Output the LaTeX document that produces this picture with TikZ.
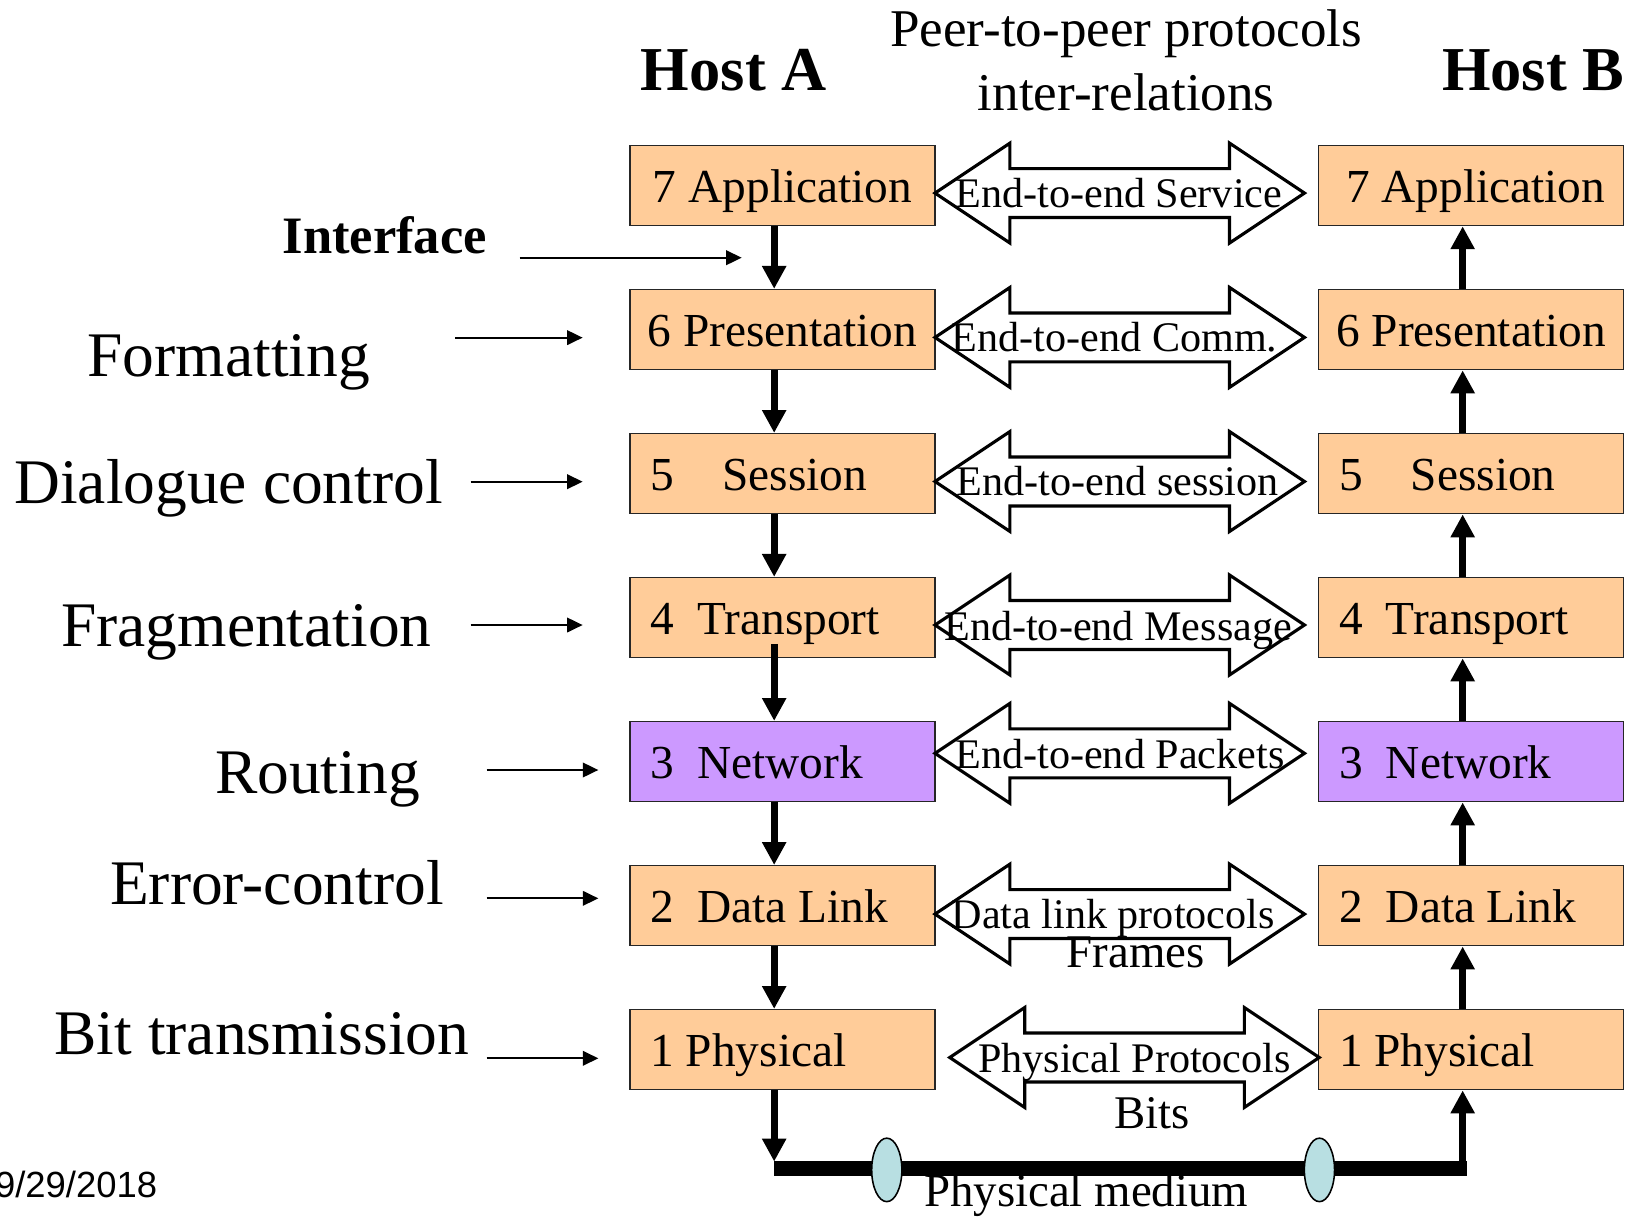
\documentclass[tikz,border=0pt]{standalone}
\usepackage{fontspec}
\setmainfont{Liberation Serif}
\newfontfamily\datefont{Liberation Sans}
\usetikzlibrary{arrows.meta,shapes.geometric}
\definecolor{peach}{HTML}{FFCC99}
\definecolor{lilac}{HTML}{CC99FF}
\definecolor{tapcyan}{HTML}{B8DFE2}

\tikzset{
  peerarrow/.pic={
    \draw[line width=3pt, fill=white, line join=miter]
      (-177.5,0) -- (-105.5,-48) -- (-105.5,-23.5) -- (105.5,-23.5) -- (105.5,-48)
      -- (177.5,0) -- (105.5,48) -- (105.5,23.5) -- (-105.5,23.5) -- (-105.5,48) -- cycle;
  }
}
% gap between a layer number and its name
\newcommand{\numgap}[1]{\hspace*{#1pt}}

\begin{document}
\begin{tikzpicture}[x=1pt,y=-1pt,
  layer/.style={draw=black!85, line width=1.3pt, fill=peach,
    minimum width=293pt, minimum height=77pt, inner sep=0pt,
    text height=32pt, text depth=0pt, font=\fontsize{45.5}{50}\selectfont},
  layerleft/.style={layer, text width=253pt, align=left},
  netlayer/.style={fill=lilac},
  flow/.style={line width=7pt, -{Triangle[width=22pt,length=22pt]}},
  hint/.style={line width=2pt, -{Triangle[width=14pt,length=15pt]}},
  peerlabel/.style={anchor=base, inner sep=0pt, font=\fontsize{40.5}{46}\selectfont},
  sidelabel/.style={anchor=base east, inner sep=0pt, font=\fontsize{61}{70}\selectfont},
  hostlabel/.style={anchor=base, inner sep=0pt, font=\bfseries\fontsize{60}{70}\selectfont},
  toplabel/.style={anchor=base, inner sep=0pt, font=\fontsize{51}{60}\selectfont},
  tap/.style={ellipse, draw=black, line width=1.5pt, fill=tapcyan,
    minimum width=29pt, minimum height=61pt, inner sep=0pt}
]
\fill[white] (0,0) rectangle (1568,1170);
\useasboundingbox (0,0) rectangle (1568,1170);

% headings
\node[hostlabel] (hostA) at (705,87) {Host A};
\node[hostlabel] (hostB) at (1473,87) {Host B};
\node[toplabel] (peer1) at (1082,45) {Peer-to-peer protocols};
\node[toplabel] (peer2) at (1082,106) {inter-relations};

% protocol stack of host A
\node[layer]              (a7) at (751.8,178.3)  {7 Application};
\node[layer]              (a6) at (751.8,316.7)  {6 Presentation};
\node[layerleft]          (a5) at (751.8,455.1)  {5\numgap{46}Session};
\node[layerleft]          (a4) at (751.8,593.4)  {4\numgap{22}Transport};
\node[layerleft,netlayer] (a3) at (751.8,731.8)  {3\numgap{22}Network};
\node[layerleft]          (a2) at (751.8,870.2)  {2\numgap{22}Data\numgap{11}Link};
\node[layerleft]          (a1) at (751.8,1008.5) {1\numgap{11}Physical};

% protocol stack of host B
\node[layer]              (b7) at (1413.3,178.3)  {\numgap{9}7 Application};
\node[layer]              (b6) at (1413.3,316.7)  {6 Presentation};
\node[layerleft]          (b5) at (1413.3,455.1)  {5\numgap{46}Session};
\node[layerleft]          (b4) at (1413.3,593.4)  {4\numgap{22}Transport};
\node[layerleft,netlayer] (b3) at (1413.3,731.8)  {3\numgap{22}Network};
\node[layerleft]          (b2) at (1413.3,870.2)  {2\numgap{22}Data\numgap{11}Link};
\node[layerleft]          (b1) at (1413.3,1008.5) {1\numgap{11}Physical};

% data going down through host A
\draw[flow] ([xshift=-8pt]a7.south) -- ([xshift=-8pt]a6.north);
\draw[flow] ([xshift=-8pt]a6.south) -- ([xshift=-8pt]a5.north);
\draw[flow] ([xshift=-8pt]a5.south) -- ([xshift=-8pt]a4.north);
\draw[flow, shorten <=-14pt] ([xshift=-8pt]a4.south) -- ([xshift=-8pt]a3.north);
\draw[flow] ([xshift=-8pt]a3.south) -- ([xshift=-8pt]a2.north);
\draw[flow] ([xshift=-8pt]a2.south) -- ([xshift=-8pt]a1.north);

% data going up through host B
\draw[flow] ([xshift=-8pt]b6.north) -- ([xshift=-8pt]b7.south);
\draw[flow] ([xshift=-8pt]b5.north) -- ([xshift=-8pt]b6.south);
\draw[flow] ([xshift=-8pt]b4.north) -- ([xshift=-8pt]b5.south);
\draw[flow] ([xshift=-8pt]b3.north) -- ([xshift=-8pt]b4.south);
\draw[flow] ([xshift=-8pt]b2.north) -- ([xshift=-8pt]b3.south);
\draw[flow] ([xshift=-8pt]b1.north) -- ([xshift=-8pt]b2.south);

% physical medium
\coordinate (barL) at (744,1123);
\coordinate (barR) at (1409,1123);
\coordinate (downfoot) at (743.8,1116);
\coordinate (upfoot) at (1405.3,1116);
\draw[line width=14.5pt] (barL) -- (barR);
\draw[flow] ([xshift=-8pt]a1.south) -- (downfoot);
\draw[flow] (upfoot) -- ([xshift=-8pt]b1.south);
\node[tap] (tapA) at (852,1124) {};
\node[tap] (tapB) at (1267.7,1124) {};
\node[peerlabel, font=\fontsize{45}{50}\selectfont] (medium) at (1043.5,1159.3) {Physical medium};

% peer-to-peer relations
\pic (p7) at (1075.8,185.5) {peerarrow};
\pic (p6) at (1075.8,324.2) {peerarrow};
\pic (p5) at (1075.8,462.6) {peerarrow};
\pic (p4) at (1075.8,600.5) {peerarrow};
\pic (p3) at (1075.8,723.8) {peerarrow};
\pic (p2) at (1075.8,878.2) {peerarrow};
\pic (p1) at (1090,1016) {peerarrow};

\node[peerlabel] (l7) at (1075,199)    {End-to-end Service};
\node[peerlabel] (l6) at (1071,338)    {End-to-end Comm.};
\node[peerlabel] (l5) at (1074,476)    {End-to-end session};
\node[peerlabel] (l4) at (1074.3,615)  {End-to-end Message};
\node[peerlabel] (l3) at (1076,738)    {End-to-end Packets};
\node[peerlabel] (l2) at (1069.5,892)  {Data link protocols};
\node[peerlabel, font=\fontsize{45}{50}\selectfont] (l2b) at (1091,930) {Frames};
\node[peerlabel] (l1) at (1090,1030.6) {Physical Protocols};
\node[peerlabel, font=\fontsize{45}{50}\selectfont] (l1b) at (1107,1084) {Bits};

% layer functions
\node[sidelabel, font=\bfseries\fontsize{50.5}{60}\selectfont] (fInterface) at (468,244) {Interface};
\node[sidelabel] (fFormat)   at (355.5,362)   {Formatting};
\node[sidelabel] (fDialogue) at (425.7,483.6) {Dialogue control};
\node[sidelabel] (fFragment) at (414.8,621.3) {Fragmentation};
\node[sidelabel] (fRouting)  at (403.5,762.2) {Routing};
\node[sidelabel] (fError)    at (426.6,868.6) {Error-control};
\node[sidelabel] (fBits)     at (450.9,1013.6) {Bit transmission};

\coordinate (iS) at (499.3,247.6);   \coordinate (iE) at (712.6,247.6);
\coordinate (fS) at (437.2,324.4);   \coordinate (fE) at (559.8,324.4);
\coordinate (dS) at (452.2,462.8);   \coordinate (dE) at (559.8,462.8);
\coordinate (gS) at (452.2,600.5);   \coordinate (gE) at (559.8,600.5);
\coordinate (rS) at (467.6,739.8);   \coordinate (rE) at (574.9,739.8);
\coordinate (eS) at (467.6,863.1);   \coordinate (eE) at (574.9,863.1);
\coordinate (bS) at (467.6,1016.8);  \coordinate (bE) at (574.9,1016.8);
\draw[hint] (iS) -- (iE);
\draw[hint] (fS) -- (fE);
\draw[hint] (dS) -- (dE);
\draw[hint] (gS) -- (gE);
\draw[hint] (rS) -- (rE);
\draw[hint] (eS) -- (eE);
\draw[hint] (bS) -- (bE);

% footer
\node[anchor=base west, inner sep=0pt, font=\datefont\fontsize{35}{40}\selectfont] (date) at (-5,1151) {9/29/2018};
\end{tikzpicture}
\end{document}
